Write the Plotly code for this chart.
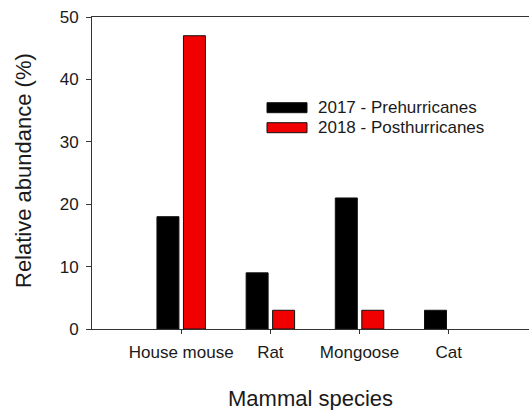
import plotly.graph_objects as go

categories = ["House mouse", "Rat", "Mongoose", "Cat"]
series_names = ["2017 - Prehurricanes", "2018 - Posthurricanes"]
values_2017 = [18, 9, 21, 3]
values_2018 = [47, 3, 3, 0]
y_ticks = [0, 10, 20, 30, 40, 50]

colors = ["#000000", "#F00000"]
FONT = "Liberation Sans, Arial, sans-serif"
TXT = "#1a1a1a"

W, H = 529, 410
L, R, T, B = 92, 0, 17, 81
pw, ph = W - L - R, H - T - B


def px_x(x):
    return (x - L) / pw


def px_y(y):
    return (H - B - y) / ph


fig = go.Figure()
for name, vals, col in zip(series_names, [values_2017, values_2018], colors):
    fig.add_trace(go.Bar(
        x=categories, y=vals, name=name,
        marker=dict(color=col, line=dict(color="#111111",
                                         width=[1 if v else 0 for v in vals])),
        showlegend=False,
    ))

shapes = []
annotations = []
rows = [(102.7, 107.6), (122.7, 127.6)]
for (top, mid), name, col in zip(rows, series_names, colors):
    shapes.append(dict(type="rect", xref="paper", yref="paper",
                       x0=px_x(267), x1=px_x(307), y0=px_y(top + 10), y1=px_y(top),
                       fillcolor=col, line=dict(color="#111111", width=1)))
    annotations.append(dict(xref="paper", yref="paper", x=px_x(316), y=px_y(mid),
                            xanchor="left", yanchor="middle", text=name, showarrow=False,
                            font=dict(family=FONT, size=17, color=TXT)))

annotations.append(dict(xref="paper", yref="paper", x=px_x(23), y=px_y(171),
                        xanchor="center", yanchor="middle", textangle=-90,
                        text="Relative abundance (%)", showarrow=False,
                        font=dict(family=FONT, size=22, color=TXT)))
annotations.append(dict(xref="paper", yref="paper", x=0.5, y=px_y(384),
                        xanchor="center", yanchor="top",
                        text="Mammal species", showarrow=False,
                        font=dict(family=FONT, size=22, color=TXT)))

fig.update_layout(
    width=W, height=H,
    margin=dict(l=L, r=R, t=T, b=B, pad=0),
    paper_bgcolor="white", plot_bgcolor="white",
    barmode="group", bargap=0.406, bargroupgap=0.17,
    font=dict(family=FONT, size=17, color=TXT),
    shapes=shapes, annotations=annotations,
    xaxis=dict(type="category", range=[-1, 3.9], showline=True, linecolor="#333333",
               linewidth=1, mirror=True, ticks="outside", ticklen=4, tickcolor="#333333",
               ticklabelstandoff=4,
               showgrid=False, zeroline=False, tickfont=dict(size=17, color=TXT)),
    yaxis=dict(range=[0, 50], tickvals=y_ticks, showline=True, linecolor="#333333",
               linewidth=1, ticks="outside", ticklen=5, tickcolor="#333333",
               ticklabelstandoff=4,
               showgrid=False, zeroline=False, tickfont=dict(size=17, color=TXT)),
)

fig.write_html("out.html", config={"displayModeBar": False},
               post_script="document.body.style.margin='0';document.body.style.overflow='hidden';")
